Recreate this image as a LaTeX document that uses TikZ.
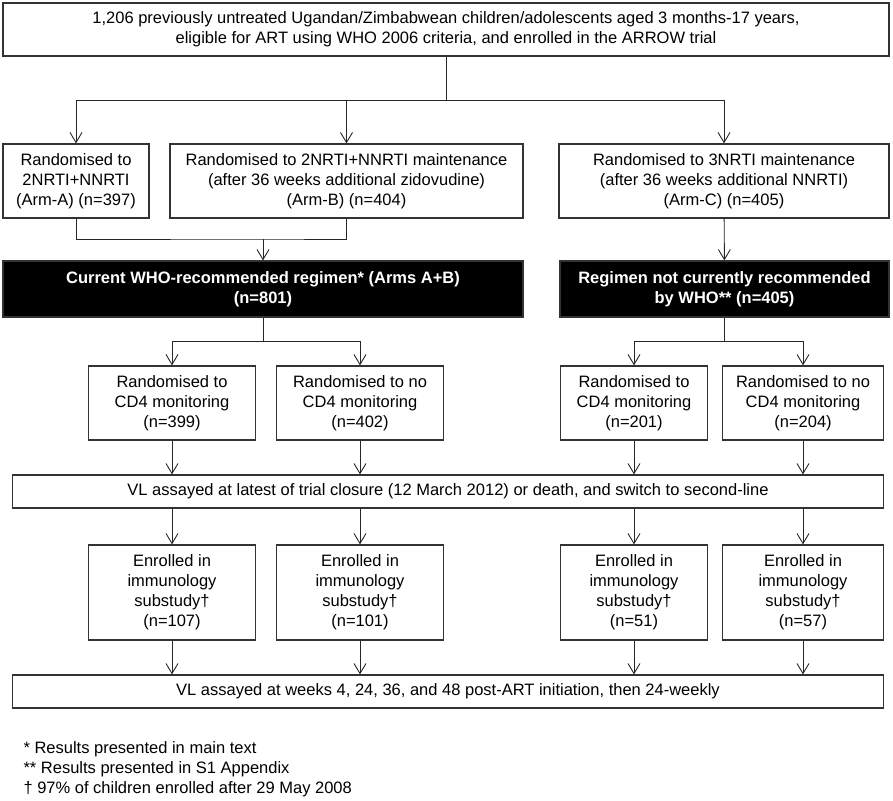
\documentclass[tikz,border=0pt]{standalone}
\usepackage{fontspec}
\setmainfont{Liberation Sans}
\usetikzlibrary{arrows.meta, positioning, calc}

\begin{document}
\begin{tikzpicture}[x=1pt, y=-1pt,
  font=\fontsize{16.5}{20}\selectfont,
  box/.style={draw=black!80, line width=1.3pt, align=center, inner sep=0pt, minimum height=74pt},
  blackbox/.style={box, fill=black, text=white, font=\bfseries\fontsize{16.5}{20}\selectfont, minimum height=56pt},
  arr/.style={-{Straight Barb[length=10pt, width=12pt]}, line width=0.9pt, black!85}]
\useasboundingbox (0,0) rectangle (893,800);

% enrolment
\node [box, minimum width=886pt, minimum height=53pt] (top) at (446,29.5)
  {1,206 previously untreated Ugandan/Zimbabwean children/adolescents aged 3 months-17 years,\\
   eligible for ART using WHO 2006 criteria, and enrolled in the ARROW trial};

% arms
\node [box, minimum width=146pt] (armA) at (76,181) {Randomised to\\ 2NRTI+NNRTI\\ (Arm-A) (n=397)};
\node [box, minimum width=353pt] (armB) at (346.5,181) {Randomised to 2NRTI+NNRTI maintenance\\ (after 36 weeks additional zidovudine)\\ (Arm-B) (n=404)};
\node [box, minimum width=330pt] (armC) at (724,181) {Randomised to 3NRTI maintenance\\ (after 36 weeks additional NNRTI)\\ (Arm-C) (n=405)};

% regimen groups
\node [blackbox, minimum width=520pt] (who) at (263,289) {Current WHO-recommended regimen* (Arms A+B)\\ (n=801)};
\node [blackbox, minimum width=329pt] (nowho) at (724.5,289) {Regimen not currently recommended\\ by WHO** (n=405)};

% monitoring
\node [box, minimum width=167pt] (cdA) at (172,403) {Randomised to\\ CD4 monitoring\\ (n=399)};
\node [box, minimum width=167pt] (cdB) at (360,403) {Randomised to no\\ CD4 monitoring\\ (n=402)};
\node [box, minimum width=147pt] (cdC) at (634,403) {Randomised to\\ CD4 monitoring\\ (n=201)};
\node [box, minimum width=161pt] (cdD) at (803,403) {Randomised to no\\ CD4 monitoring\\ (n=204)};

\node [box, minimum width=871pt, minimum height=33pt] (vlEnd) at (448,491.5)
  {VL assayed at latest of trial closure (12 March 2012) or death, and switch to second-line};

% substudy
\node [box, minimum width=167pt, minimum height=95pt] (subA) at (172,592.5) {Enrolled in\\ immunology\\ substudy\dag\\ (n=107)};
\node [box, minimum width=167pt, minimum height=95pt] (subB) at (360,592.5) {Enrolled in\\ immunology\\ substudy\dag\\ (n=101)};
\node [box, minimum width=147pt, minimum height=95pt] (subC) at (634,592.5) {Enrolled in\\ immunology\\ substudy\dag\\ (n=51)};
\node [box, minimum width=161pt, minimum height=95pt] (subD) at (803,592.5) {Enrolled in\\ immunology\\ substudy\dag\\ (n=57)};

\node [box, minimum width=871pt, minimum height=33pt] (vlWeeks) at (448,691.5)
  {VL assayed at weeks 4, 24, 36, and 48 post-ART initiation, then 24-weekly};

\node [anchor=west, align=left] (notes) at (20,769)
  {* Results presented in main text\\ ** Results presented in S1 Appendix\\ \dag{} 97\% of children enrolled after 29 May 2008};

% connectors
\coordinate (splitTop) at (446,100);
\coordinate (joinAB) at (263,239);
\coordinate (splitW) at (263,341);
\coordinate (splitN) at (724.5,341);

\draw [line width=0.9pt, black!85] (top) -- (splitTop);
\foreach \n in {armA,armB,armC} \draw [arr] (splitTop) -| (\n);

\draw [line width=0.9pt, black!85] (armA) |- (joinAB) -| (armB);
\draw [arr] (joinAB) -- (who);
\draw [arr] (armC) -- (nowho);

\draw [line width=0.9pt, black!85] (who) -- (splitW);
\draw [line width=0.9pt, black!85] (nowho) -- (splitN);
\draw [arr] (splitW) -| (cdA);
\draw [arr] (splitW) -| (cdB);
\draw [arr] (splitN) -| (cdC);
\draw [arr] (splitN) -| (cdD);

\foreach \n/\m in {cdA/subA,cdB/subB,cdC/subC,cdD/subD} {
  \draw [arr] (\n) -- (\n |- vlEnd.north);
  \draw [arr] (vlEnd.south -| \m) -- (\m);
  \draw [arr] (\m) -- (\m |- vlWeeks.north);
}
\end{tikzpicture}
\end{document}
